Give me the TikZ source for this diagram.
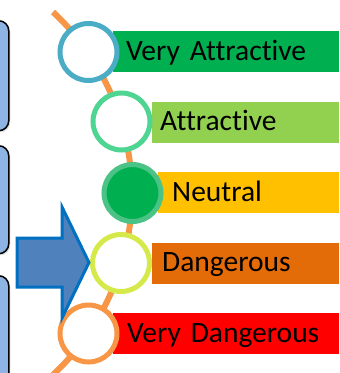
\documentclass[tikz,border=0pt]{standalone}
\usepackage{fontspec}
\setmainfont{Carlito}[Ligatures=NoCommon, WordSpace=0.7]
\usetikzlibrary{shadows}

\definecolor{spineorange}{HTML}{F79646}
\definecolor{ringteal}{HTML}{4BACC6}
\definecolor{ringmint}{HTML}{4FD592}
\definecolor{ringgreen}{HTML}{4CC386}
\definecolor{ringlime}{HTML}{D6E94B}
\definecolor{darkgreen}{HTML}{00B050}
\definecolor{lightgreen}{HTML}{92D050}
\definecolor{amber}{HTML}{FFC000}
\definecolor{burnt}{HTML}{E36C09}
\definecolor{arrowblue}{HTML}{4F81BD}
\definecolor{arrowedge}{HTML}{0070C0}
\definecolor{panelblue}{HTML}{8DB4E2}

\begin{document}
\begin{tikzpicture}[x=1pt,y=-1pt,
	band/.style={anchor=west, inner ysep=0pt, minimum height=41pt, text height=21pt, text depth=4pt, align=left, font=\fontsize{29.5}{30}\selectfont},
	ring/.style={circle, draw, line width=5pt, fill=white, minimum size=57pt, inner sep=0pt},
	panel/.style={anchor=north west, draw=black, line width=1.5pt, fill=panelblue, rounded corners=10pt, minimum width=60pt, drop shadow={opacity=0.25, shadow xshift=1.5pt, shadow yshift=-1.5pt}},
	spine/.style={spineorange, line width=6pt}]

	\useasboundingbox (0,0) rectangle (340,373);

	\node[panel, minimum height=110pt] (panelA) at (-52,20) {};
	\node[panel, minimum height=108pt] (panelB) at (-52,145) {};
	\node[panel, minimum height=135pt] (panelC) at (-52,275) {};

	\coordinate (spinetop) at (53,12);
	\draw[spine] (spinetop) arc[start angle=-47, end angle=47, radius=248];

	\node[band, fill=darkgreen, inner xsep=13pt, text width=200pt] (vattr) at (113,51.5) {Very Attractive};
	\node[band, fill=lightgreen, inner xsep=8pt, text width=171pt] (attr) at (152,122) {Attractive};
	\node[band, fill=amber, inner xsep=14pt, text width=153pt] (neut) at (158,192.5) {Neutral};
	\node[band, fill=burnt, inner xsep=10pt, text width=167pt] (dang) at (152,263) {Dangerous};
	\node[band, fill=red, inner xsep=14pt, text width=198pt] (vdang) at (113,333.5) {Very Dangerous};

	\node[ring, draw=ringteal] (c1) at (88.5,52) {};
	\node[ring, draw=ringmint] (c2) at (121.5,121.5) {};
	\node[ring, draw=ringgreen, fill=darkgreen] (c3) at (132.5,193) {};
	\node[ring, draw=ringlime] (c4) at (121,263) {};
	\node[ring, draw=spineorange] (c5) at (88.5,333.5) {};

	\draw[fill=arrowblue, draw=arrowedge, line width=3pt] (17,238) -- (62,238) -- (62,207) -- (89,262.5) -- (62,318) -- (62,287) -- (17,287) -- cycle;

\end{tikzpicture}
\end{document}
